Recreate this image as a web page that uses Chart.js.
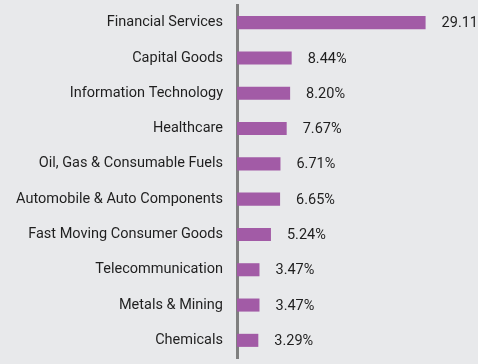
<!DOCTYPE html>
<html>
<head>
<meta charset="utf-8">
<script src="https://cdn.jsdelivr.net/npm/chart.js@4"></script>
<style>
  html, body { margin: 0; padding: 0; background: #e8e9eb; }
  #wrap { width: 478px; height: 364px; position: relative; }
</style>
</head>
<body>
<div id="wrap"><canvas id="chart"></canvas></div>
<script>
// ── Data ─────────────────────────────────────────────────────────────
const SECTORS = [
    'Financial Services',
    'Capital Goods',
    'Information Technology',
    'Healthcare',
    'Oil, Gas & Consumable Fuels',
    'Automobile & Auto Components',
    'Fast Moving Consumer Goods',
    'Telecommunication',
    'Metals & Mining',
    'Chemicals',
];
const WEIGHTS = [29.11, 8.44, 8.20, 7.67, 6.71, 6.65, 5.24, 3.47, 3.47, 3.29];

const BAR_COLOR = '#a25ba6';
const TEXT_COLOR = '#1f1f1f';
const FONT = 'Roboto';
const FONT_SIZE = 14.5;

// value labels to the right of each bar
const valueLabels = {
    id: 'valueLabels',
    afterDatasetsDraw(chart) {
        const { ctx } = chart;
        const meta = chart.getDatasetMeta(0);
        ctx.save();
        ctx.font = `${FONT_SIZE}px ${FONT}`;
        ctx.fillStyle = TEXT_COLOR;
        ctx.textAlign = 'left';
        ctx.textBaseline = 'middle';
        meta.data.forEach((bar, i) => {
            ctx.fillText(WEIGHTS[i].toFixed(2) + '%', bar.x + 16, bar.y + 1);
        });
        ctx.restore();
    },
};

new Chart(document.getElementById('chart'), {
    type: 'bar',
    data: {
        labels: SECTORS,
        datasets: [{
            data: WEIGHTS,
            backgroundColor: BAR_COLOR,
            barPercentage: 0.37,
            categoryPercentage: 1,
        }],
    },
    options: {
        indexAxis: 'y',
        responsive: true,
        maintainAspectRatio: false,
        animation: false,
        layout: { padding: { top: 5, bottom: 6, left: 0, right: 0 } },
        plugins: {
            legend: { display: false },
            tooltip: { enabled: false },
        },
        scales: {
            x: {
                display: false,
                min: 0,
                max: 37.2,
            },
            y: {
                grid: { display: false, drawTicks: false },
                border: { display: true, color: '#7f7f7f', width: 3 },
                ticks: {
                    color: TEXT_COLOR,
                    font: { family: FONT, size: FONT_SIZE },
                    padding: 14,
                },
                afterFit(scale) {
                    scale.width = 237;
                    scale.paddingTop = 0;
                    scale.paddingBottom = 0;
                },
            },
        },
    },
    plugins: [valueLabels],
});
</script>
</body>
</html>
